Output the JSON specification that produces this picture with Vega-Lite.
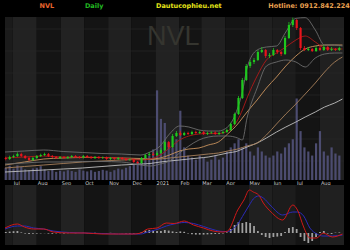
{
"$schema":"https://vega.github.io/schema/vega-lite/v6.json",
"width":350,"height":250,
"autosize":{"type":"fit","contains":"padding"},
"padding":0,
"background":"#000000",
"config":{"view":{"stroke":null}},
"datasets":{
"bands":[
{"d":"2020-06-21","e":"2020-07-01","f":"#1b1b1b"},
{"d":"2020-07-01","e":"2020-08-01","f":"#222222"},
{"d":"2020-08-01","e":"2020-09-01","f":"#141414"},
{"d":"2020-09-01","e":"2020-10-01","f":"#222222"},
{"d":"2020-10-01","e":"2020-11-01","f":"#141414"},
{"d":"2020-11-01","e":"2020-12-01","f":"#202020"},
{"d":"2020-12-01","e":"2021-01-01","f":"#141414"},
{"d":"2021-01-01","e":"2021-02-01","f":"#222222"},
{"d":"2021-02-01","e":"2021-03-01","f":"#141414"},
{"d":"2021-03-01","e":"2021-04-01","f":"#202020"},
{"d":"2021-04-01","e":"2021-05-01","f":"#141414"},
{"d":"2021-05-01","e":"2021-06-01","f":"#202020"},
{"d":"2021-06-01","e":"2021-07-01","f":"#1c1c1c"},
{"d":"2021-07-01","e":"2021-08-01","f":"#141414"},
{"d":"2021-08-01","e":"2021-09-01","f":"#202020"}
],
"grid":[
{"d":"2020-06-21","e":"2021-09-01","p":120.6},
{"d":"2020-06-21","e":"2021-09-01","p":107.4},
{"d":"2020-06-21","e":"2021-09-01","p":94.2},
{"d":"2020-06-21","e":"2021-09-01","p":81.0},
{"d":"2020-06-21","e":"2021-09-01","p":67.8},
{"d":"2020-06-21","e":"2021-09-01","p":54.6},
{"d":"2020-06-21","e":"2021-09-01","p":41.4}
],
"candles":[
{"d":"2020-06-22","o":43.2,"h":44.0,"l":41.8,"c":42.6,"v":3.0,"hm":0.5},
{"d":"2020-06-27","o":42.6,"h":44.6,"l":42.0,"c":43.8,"v":3.5,"hm":0.7},
{"d":"2020-07-02","o":43.8,"h":45.2,"l":43.2,"c":44.4,"v":2.8,"hm":0.9},
{"d":"2020-07-07","o":44.4,"h":46.6,"l":43.8,"c":45.6,"v":3.6,"hm":1.0},
{"d":"2020-07-12","o":45.6,"h":46.4,"l":43.8,"c":44.4,"v":3.2,"hm":0.3},
{"d":"2020-07-17","o":44.4,"h":45.0,"l":42.6,"c":43.2,"v":2.6,"hm":-0.3},
{"d":"2020-07-22","o":43.2,"h":43.8,"l":41.4,"c":42.0,"v":2.4,"hm":-0.5},
{"d":"2020-07-27","o":42.0,"h":44.0,"l":41.4,"c":43.2,"v":2.8,"hm":-0.4},
{"d":"2020-08-01","o":43.2,"h":45.0,"l":42.6,"c":44.4,"v":3.0,"hm":-0.3},
{"d":"2020-08-06","o":44.4,"h":45.8,"l":43.8,"c":45.0,"v":3.4,"hm":-0.2},
{"d":"2020-08-11","o":45.0,"h":46.4,"l":44.4,"c":45.6,"v":2.6,"hm":-0.1},
{"d":"2020-08-16","o":45.6,"h":46.2,"l":43.8,"c":44.4,"v":2.2,"hm":-0.3},
{"d":"2020-08-21","o":44.4,"h":45.0,"l":43.2,"c":43.8,"v":2.5,"hm":-0.4},
{"d":"2020-08-26","o":43.8,"h":44.4,"l":42.6,"c":43.2,"v":2.0,"hm":-0.2},
{"d":"2020-08-31","o":43.2,"h":44.4,"l":42.6,"c":43.8,"v":2.3,"hm":-0.1},
{"d":"2020-09-05","o":43.8,"h":44.4,"l":42.6,"c":43.2,"v":2.1,"hm":-0.2},
{"d":"2020-09-10","o":43.2,"h":44.4,"l":42.6,"c":43.8,"v":2.4,"hm":-0.1},
{"d":"2020-09-15","o":43.8,"h":45.0,"l":43.2,"c":44.4,"v":2.2,"hm":0.1},
{"d":"2020-09-20","o":44.4,"h":45.0,"l":43.2,"c":43.8,"v":2.0,"hm":-0.1},
{"d":"2020-09-25","o":43.8,"h":44.4,"l":42.9,"c":43.5,"v":2.6,"hm":0.0},
{"d":"2020-09-30","o":43.5,"h":45.0,"l":42.9,"c":44.4,"v":2.3,"hm":0.1},
{"d":"2020-10-05","o":44.4,"h":45.0,"l":43.2,"c":43.8,"v":2.1,"hm":-0.1},
{"d":"2020-10-10","o":43.8,"h":44.4,"l":42.6,"c":43.2,"v":2.4,"hm":-0.2},
{"d":"2020-10-15","o":43.2,"h":44.4,"l":42.6,"c":43.8,"v":2.0,"hm":0.1},
{"d":"2020-10-20","o":43.8,"h":44.4,"l":42.6,"c":43.2,"v":2.2,"hm":-0.1},
{"d":"2020-10-25","o":43.2,"h":44.1,"l":42.6,"c":43.5,"v":2.5,"hm":-0.1},
{"d":"2020-10-30","o":43.5,"h":44.1,"l":42.0,"c":42.6,"v":2.3,"hm":-0.2},
{"d":"2020-11-04","o":42.6,"h":43.8,"l":42.0,"c":43.2,"v":2.0,"hm":0.1},
{"d":"2020-11-09","o":43.2,"h":43.8,"l":42.0,"c":42.6,"v":2.4,"hm":-0.1},
{"d":"2020-11-14","o":42.6,"h":43.8,"l":42.0,"c":43.2,"v":2.8,"hm":0.0},
{"d":"2020-11-19","o":43.2,"h":43.8,"l":42.0,"c":42.6,"v":2.6,"hm":-0.1},
{"d":"2020-11-24","o":42.6,"h":43.2,"l":41.4,"c":42.0,"v":3.0,"hm":-0.2},
{"d":"2020-11-29","o":42.0,"h":42.9,"l":41.4,"c":42.3,"v":3.4,"hm":-0.3},
{"d":"2020-12-04","o":42.3,"h":42.9,"l":40.2,"c":40.8,"v":3.8,"hm":-0.3},
{"d":"2020-12-09","o":40.8,"h":41.4,"l":39.6,"c":40.2,"v":4.5,"hm":-0.2},
{"d":"2020-12-14","o":40.2,"h":43.8,"l":39.6,"c":43.2,"v":4.2,"hm":0.5},
{"d":"2020-12-19","o":43.2,"h":45.6,"l":42.6,"c":45.0,"v":5.5,"hm":1.2},
{"d":"2020-12-24","o":45.0,"h":46.8,"l":44.4,"c":45.6,"v":6.0,"hm":1.5},
{"d":"2020-12-29","o":45.6,"h":46.8,"l":44.4,"c":45.0,"v":7.5,"hm":1.3},
{"d":"2021-01-03","o":45.0,"h":47.4,"l":44.4,"c":46.2,"v":22.0,"hm":1.0},
{"d":"2021-01-08","o":46.2,"h":49.2,"l":45.6,"c":48.0,"v":15.0,"hm":1.0},
{"d":"2021-01-13","o":48.0,"h":54.0,"l":47.4,"c":52.8,"v":14.0,"hm":1.5},
{"d":"2021-01-18","o":52.8,"h":53.4,"l":48.6,"c":49.8,"v":9.0,"hm":1.2},
{"d":"2021-01-23","o":49.8,"h":57.6,"l":49.2,"c":56.4,"v":8.0,"hm":0.8},
{"d":"2021-01-28","o":56.4,"h":59.4,"l":55.8,"c":58.2,"v":10.0,"hm":0.5},
{"d":"2021-02-02","o":58.2,"h":59.4,"l":56.4,"c":57.0,"v":17.0,"hm":0.8},
{"d":"2021-02-07","o":57.0,"h":59.0,"l":56.4,"c":58.2,"v":8.0,"hm":0.6},
{"d":"2021-02-12","o":58.2,"h":59.0,"l":57.0,"c":57.6,"v":6.0,"hm":-0.3},
{"d":"2021-02-17","o":57.6,"h":59.6,"l":57.0,"c":58.8,"v":5.5,"hm":-0.6},
{"d":"2021-02-22","o":58.8,"h":59.6,"l":57.6,"c":58.2,"v":5.0,"hm":-0.8},
{"d":"2021-02-27","o":58.2,"h":59.6,"l":57.6,"c":58.8,"v":6.0,"hm":-0.8},
{"d":"2021-03-04","o":58.8,"h":59.4,"l":57.0,"c":57.6,"v":5.5,"hm":-0.8},
{"d":"2021-03-09","o":57.6,"h":59.0,"l":57.0,"c":58.2,"v":4.5,"hm":-0.7},
{"d":"2021-03-14","o":58.2,"h":59.2,"l":57.6,"c":58.5,"v":5.0,"hm":-0.6},
{"d":"2021-03-19","o":58.5,"h":59.2,"l":57.0,"c":57.6,"v":6.0,"hm":-0.5},
{"d":"2021-03-24","o":57.6,"h":59.0,"l":57.0,"c":58.2,"v":5.0,"hm":-0.4},
{"d":"2021-03-29","o":58.2,"h":59.6,"l":57.6,"c":58.8,"v":5.5,"hm":-0.2},
{"d":"2021-04-03","o":58.8,"h":60.8,"l":58.2,"c":60.0,"v":7.0,"hm":0.3},
{"d":"2021-04-08","o":60.0,"h":64.4,"l":59.4,"c":63.6,"v":8.0,"hm":2.0},
{"d":"2021-04-13","o":63.6,"h":70.4,"l":63.0,"c":69.6,"v":9.0,"hm":4.0},
{"d":"2021-04-18","o":69.6,"h":80.4,"l":69.0,"c":79.2,"v":10.0,"hm":5.5},
{"d":"2021-04-23","o":79.2,"h":91.2,"l":78.6,"c":90.0,"v":8.0,"hm":5.0},
{"d":"2021-04-28","o":90.0,"h":99.6,"l":89.4,"c":98.4,"v":9.0,"hm":5.5},
{"d":"2021-05-03","o":98.4,"h":102.0,"l":97.2,"c":100.8,"v":7.0,"hm":5.0},
{"d":"2021-05-08","o":100.8,"h":103.2,"l":99.6,"c":102.0,"v":6.0,"hm":3.5},
{"d":"2021-05-13","o":102.0,"h":108.0,"l":101.4,"c":106.8,"v":8.0,"hm":1.0},
{"d":"2021-05-18","o":106.8,"h":109.8,"l":106.2,"c":108.0,"v":7.0,"hm":-1.0},
{"d":"2021-05-23","o":108.0,"h":108.6,"l":103.2,"c":104.4,"v":6.0,"hm":-2.0},
{"d":"2021-05-28","o":104.4,"h":106.2,"l":103.2,"c":105.0,"v":5.5,"hm":-2.5},
{"d":"2021-06-02","o":105.0,"h":109.2,"l":104.4,"c":108.0,"v":6.0,"hm":-2.0},
{"d":"2021-06-07","o":108.0,"h":108.6,"l":105.6,"c":106.8,"v":7.0,"hm":-1.8},
{"d":"2021-06-12","o":106.8,"h":107.4,"l":104.4,"c":105.6,"v":6.5,"hm":-1.5},
{"d":"2021-06-17","o":105.6,"h":116.4,"l":105.0,"c":115.2,"v":8.0,"hm":0.5},
{"d":"2021-06-22","o":115.2,"h":124.8,"l":114.6,"c":123.0,"v":9.0,"hm":2.5},
{"d":"2021-06-27","o":123.0,"h":127.4,"l":121.8,"c":126.0,"v":10.0,"hm":3.0},
{"d":"2021-07-02","o":126.0,"h":126.6,"l":120.0,"c":121.2,"v":20.0,"hm":2.0},
{"d":"2021-07-07","o":121.2,"h":121.8,"l":108.0,"c":109.2,"v":12.0,"hm":-2.0},
{"d":"2021-07-12","o":109.2,"h":110.4,"l":107.4,"c":108.0,"v":8.0,"hm":-4.0},
{"d":"2021-07-17","o":108.0,"h":109.8,"l":107.4,"c":108.6,"v":7.0,"hm":-5.0},
{"d":"2021-07-22","o":108.6,"h":109.2,"l":106.8,"c":107.4,"v":6.0,"hm":-4.0},
{"d":"2021-07-27","o":107.4,"h":110.4,"l":106.8,"c":109.2,"v":9.0,"hm":-2.0},
{"d":"2021-08-01","o":109.2,"h":110.4,"l":107.4,"c":108.0,"v":12.0,"hm":0.5},
{"d":"2021-08-06","o":108.0,"h":111.0,"l":107.4,"c":109.8,"v":7.0,"hm":1.0},
{"d":"2021-08-11","o":109.8,"h":110.4,"l":107.4,"c":108.0,"v":6.0,"hm":-0.3},
{"d":"2021-08-16","o":108.0,"h":109.8,"l":107.4,"c":108.6,"v":8.0,"hm":-0.5},
{"d":"2021-08-21","o":108.6,"h":109.2,"l":107.4,"c":108.0,"v":6.5,"hm":0.2},
{"d":"2021-08-26","o":108.0,"h":110.0,"l":107.4,"c":109.2,"v":6.0,"hm":0.3}
],
"ma":[
{"d":"2020-06-21","mid":43.2,"up":46.8,"lo":39.6,"a":39.0,"b":37.2,"w":34.8},
{"d":"2020-07-16","mid":43.8,"up":47.4,"lo":40.2,"a":40.8,"b":38.1,"w":35.4},
{"d":"2020-08-10","mid":44.4,"up":48.0,"lo":40.8,"a":42.6,"b":39.0,"w":36.0},
{"d":"2020-09-04","mid":43.8,"up":47.1,"lo":40.8,"a":43.2,"b":39.9,"w":36.6},
{"d":"2020-09-29","mid":43.8,"up":46.5,"lo":41.1,"a":43.5,"b":40.8,"w":37.2},
{"d":"2020-10-24","mid":43.5,"up":45.9,"lo":41.1,"a":43.5,"b":41.4,"w":38.1},
{"d":"2020-11-18","mid":43.2,"up":45.6,"lo":40.8,"a":43.2,"b":42.0,"w":39.0},
{"d":"2020-12-13","mid":42.0,"up":45.0,"lo":39.0,"a":42.9,"b":42.3,"w":39.6},
{"d":"2020-12-25","mid":42.6,"up":46.8,"lo":38.4,"a":42.6,"b":42.3,"w":39.9},
{"d":"2021-01-07","mid":45.0,"up":50.4,"lo":39.6,"a":43.2,"b":42.6,"w":40.8},
{"d":"2021-01-19","mid":49.2,"up":57.6,"lo":41.4,"a":45.0,"b":43.2,"w":41.4},
{"d":"2021-02-01","mid":54.0,"up":62.4,"lo":46.2,"a":47.4,"b":43.8,"w":42.0},
{"d":"2021-02-13","mid":56.4,"up":61.8,"lo":50.4,"a":48.6,"b":44.4,"w":42.6},
{"d":"2021-02-26","mid":57.6,"up":60.0,"lo":54.0,"a":49.2,"b":45.0,"w":43.2},
{"d":"2021-03-10","mid":57.9,"up":59.4,"lo":55.8,"a":51.0,"b":45.6,"w":43.8},
{"d":"2021-03-23","mid":57.9,"up":59.4,"lo":56.4,"a":52.8,"b":46.2,"w":45.0},
{"d":"2021-04-04","mid":59.4,"up":61.8,"lo":56.4,"a":57.6,"b":47.4,"w":46.2},
{"d":"2021-04-17","mid":66.0,"up":73.2,"lo":55.2,"a":63.6,"b":48.6,"w":47.4},
{"d":"2021-04-23","mid":72.0,"up":82.8,"lo":54.0,"a":67.2,"b":49.5,"w":48.6},
{"d":"2021-04-29","mid":79.2,"up":97.2,"lo":67.2,"a":70.8,"b":50.4,"w":49.8},
{"d":"2021-05-12","mid":92.4,"up":108.0,"lo":85.2,"a":78.0,"b":52.2,"w":52.2},
{"d":"2021-05-24","mid":102.0,"up":109.8,"lo":98.4,"a":85.2,"b":57.0,"w":55.2},
{"d":"2021-06-06","mid":106.2,"up":110.4,"lo":100.8,"a":91.8,"b":63.6,"w":58.8},
{"d":"2021-06-18","mid":109.8,"up":118.8,"lo":102.0,"a":98.4,"b":69.6,"w":61.8},
{"d":"2021-07-01","mid":114.0,"up":127.0,"lo":100.8,"a":104.4,"b":75.6,"w":64.8},
{"d":"2021-07-13","mid":116.4,"up":127.4,"lo":97.8,"a":108.6,"b":81.6,"w":67.8},
{"d":"2021-07-26","mid":112.8,"up":120.0,"lo":103.2,"a":110.4,"b":88.2,"w":70.8},
{"d":"2021-08-07","mid":109.2,"up":111.0,"lo":105.6,"a":111.0,"b":94.8,"w":73.8},
{"d":"2021-08-20","mid":108.6,"up":111.0,"lo":106.2,"a":111.0,"b":100.8,"w":76.2},
{"d":"2021-08-30","mid":108.6,"up":110.4,"lo":106.2,"a":111.0,"b":103.8,"w":78.6}
],
"macd":[
{"d":"2020-06-21","m":2.5,"s":2.0},
{"d":"2020-07-07","m":4.5,"s":3.5},
{"d":"2020-07-16","m":3.0,"s":3.5},
{"d":"2020-07-28","m":2.0,"s":2.5},
{"d":"2020-08-10","m":2.0,"s":2.0},
{"d":"2020-08-22","m":0.5,"s":1.0},
{"d":"2020-09-12","m":0.0,"s":0.25},
{"d":"2020-10-02","m":0.0,"s":0.0},
{"d":"2020-10-24","m":-0.5,"s":-0.25},
{"d":"2020-11-14","m":-0.5,"s":-0.5},
{"d":"2020-12-04","m":-0.5,"s":-0.5},
{"d":"2020-12-13","m":0.0,"s":-0.5},
{"d":"2020-12-22","m":2.0,"s":0.5},
{"d":"2021-01-03","m":2.5,"s":1.75},
{"d":"2021-01-15","m":5.0,"s":3.5},
{"d":"2021-01-25","m":4.75,"s":4.5},
{"d":"2021-02-07","m":6.0,"s":5.25},
{"d":"2021-02-19","m":4.0,"s":4.75},
{"d":"2021-03-04","m":2.5,"s":3.25},
{"d":"2021-03-16","m":1.0,"s":1.75},
{"d":"2021-03-29","m":0.5,"s":0.75},
{"d":"2021-04-04","m":1.0,"s":0.75},
{"d":"2021-04-17","m":11.5,"s":4.5},
{"d":"2021-04-25","m":16.5,"s":9.5},
{"d":"2021-05-02","m":21.5,"s":14.0},
{"d":"2021-05-07","m":20.5,"s":17.0},
{"d":"2021-05-14","m":19.0,"s":18.5},
{"d":"2021-05-20","m":15.0,"s":17.5},
{"d":"2021-05-30","m":10.5,"s":13.5},
{"d":"2021-06-14","m":6.5,"s":9.0},
{"d":"2021-06-27","m":14.0,"s":10.5},
{"d":"2021-07-03","m":11.5,"s":10.5},
{"d":"2021-07-11","m":3.0,"s":8.5},
{"d":"2021-07-19","m":-2.5,"s":2.5},
{"d":"2021-07-28","m":-2.5,"s":-0.5},
{"d":"2021-08-05","m":0.0,"s":-1.5},
{"d":"2021-08-17","m":-2.0,"s":-1.5},
{"d":"2021-08-30","m":-0.5,"s":-1.0}
],
"months":[
{"d":"2020-07-01","lab":"Jul"},{"d":"2020-08-01","lab":"Aug"},{"d":"2020-09-01","lab":"Sep"},
{"d":"2020-10-01","lab":"Oct"},{"d":"2020-11-01","lab":"Nov"},{"d":"2020-12-01","lab":"Dec"},
{"d":"2021-01-01","lab":"2021"},{"d":"2021-02-01","lab":"Feb"},{"d":"2021-03-01","lab":"Mar"},
{"d":"2021-04-01","lab":"Apr"},{"d":"2021-05-01","lab":"May"},{"d":"2021-06-01","lab":"Jun"},
{"d":"2021-07-01","lab":"Jul"},{"d":"2021-08-01","lab":"Aug"}
],
"hdr":[
{"d":"2020-08-14","t":"NVL","col":"#e8642c"},
{"d":"2020-10-14","t":"Daily","col":"#22b822"},
{"d":"2021-02-13","t":"Dautucophieu.net","col":"#e6e619"},
{"d":"2021-07-18","t":"Hotline: 0912.842.224","col":"#e8a050"}
]
},
"encoding":{"x":{"field":"d","type":"temporal","scale":{"domain":["2020-06-21","2021-09-01"]},"axis":null}},
"layer":[
{"data":{"name":"bands"},"mark":{"type":"rect"},
 "encoding":{"x2":{"field":"e"},
  "y":{"datum":30,"scale":{"domain":[30,127.8],"range":[180,17]},"axis":null},"y2":{"datum":127.8},
  "color":{"field":"f","type":"nominal","scale":null,"legend":null}}},
{"data":{"name":"grid"},"mark":{"type":"rule","color":"#2a2a2a","strokeWidth":0.6},
 "encoding":{"x2":{"field":"e"},"y":{"field":"p","type":"quantitative","scale":{"domain":[30,127.8],"range":[180,17]},"axis":null}}},
{"data":{"values":[{"d":"2021-01-24","t":"NVL"}]},"mark":{"type":"text","font":"Liberation Sans","fontSize":27,"color":"#35352f","baseline":"middle","align":"center"},
 "encoding":{"y":{"datum":115.8,"scale":{"domain":[30,127.8],"range":[180,17]},"axis":null},"text":{"field":"t"}}},
{"data":{"name":"candles"},"mark":{"type":"bar","width":2.2,"color":"#4c4c70"},
 "encoding":{"y":{"field":"v","type":"quantitative","scale":{"domain":[0,40],"range":[180,17]},"axis":null}}},
{"data":{"name":"ma"},"transform":[{"fold":["w","b","a","lo","up","mid"],"as":["k","val"]}],
 "mark":{"type":"line","interpolate":"monotone","strokeWidth":0.9},
 "encoding":{"y":{"field":"val","type":"quantitative","scale":{"domain":[30,127.8],"range":[180,17]},"axis":null},
  "color":{"field":"k","type":"nominal","scale":{"domain":["mid","up","lo","a","b","w"],"range":["#b01818","#6c6c6c","#6c6c6c","#c8925c","#a8805a","#c0c0c0"]},"legend":null}}},
{"data":{"name":"candles"},"mark":{"type":"rule","strokeWidth":0.8},
 "encoding":{"y":{"field":"l","type":"quantitative","scale":{"domain":[30,127.8],"range":[180,17]},"axis":null},"y2":{"field":"h"},
  "color":{"condition":{"test":"datum.c >= datum.o","value":"#1ec81e"},"value":"#e8141c"}}},
{"data":{"name":"candles"},"mark":{"type":"bar","width":2.2},
 "encoding":{"y":{"field":"o","type":"quantitative","scale":{"domain":[30,127.8],"range":[180,17]},"axis":null},"y2":{"field":"c"},
  "color":{"condition":{"test":"datum.c >= datum.o","value":"#1ec81e"},"value":"#e8141c"}}},
{"data":{"name":"months"},"mark":{"type":"text","font":"DejaVu Sans","fontSize":5,"color":"#d0d0d0","align":"left","dx":1,"baseline":"middle"},
 "encoding":{"y":{"datum":28.4,"scale":{"domain":[30,127.8],"range":[180,17]},"axis":null},"text":{"field":"lab"}}},
{"data":{"name":"hdr"},"mark":{"type":"text","font":"DejaVu Sans","fontWeight":"bold","fontSize":6.5,"align":"center","baseline":"middle"},
 "encoding":{"y":{"datum":134.7,"scale":{"domain":[30,127.8],"range":[180,17]},"axis":null},"text":{"field":"t"},
  "color":{"field":"col","type":"nominal","scale":null,"legend":null}}},
{"data":{"name":"bands"},"mark":{"type":"rect"},
 "encoding":{"x2":{"field":"e"},
  "y":{"datum":-6,"scale":{"domain":[-6,24],"range":[245,185]},"axis":null},"y2":{"datum":24},
  "color":{"field":"f","type":"nominal","scale":null,"legend":null}}},
{"data":{"name":"candles"},"mark":{"type":"bar","width":1.8,"color":"#a0a0a0"},
 "encoding":{"y":{"field":"hm","type":"quantitative","scale":{"domain":[-6,24],"range":[245,185]},"axis":null},"y2":{"datum":0}}},
{"data":{"name":"macd"},"transform":[{"fold":["s","m"],"as":["k","val"]}],
 "mark":{"type":"line","interpolate":"monotone","strokeWidth":1},
 "encoding":{"y":{"field":"val","type":"quantitative","scale":{"domain":[-6,24],"range":[245,185]},"axis":null},
  "color":{"field":"k","type":"nominal","scale":{"domain":["m","s"],"range":["#d01818","#2a2ab8"]},"legend":null}}}
],
"resolve":{"scale":{"y":"independent","color":"independent"}}
}
